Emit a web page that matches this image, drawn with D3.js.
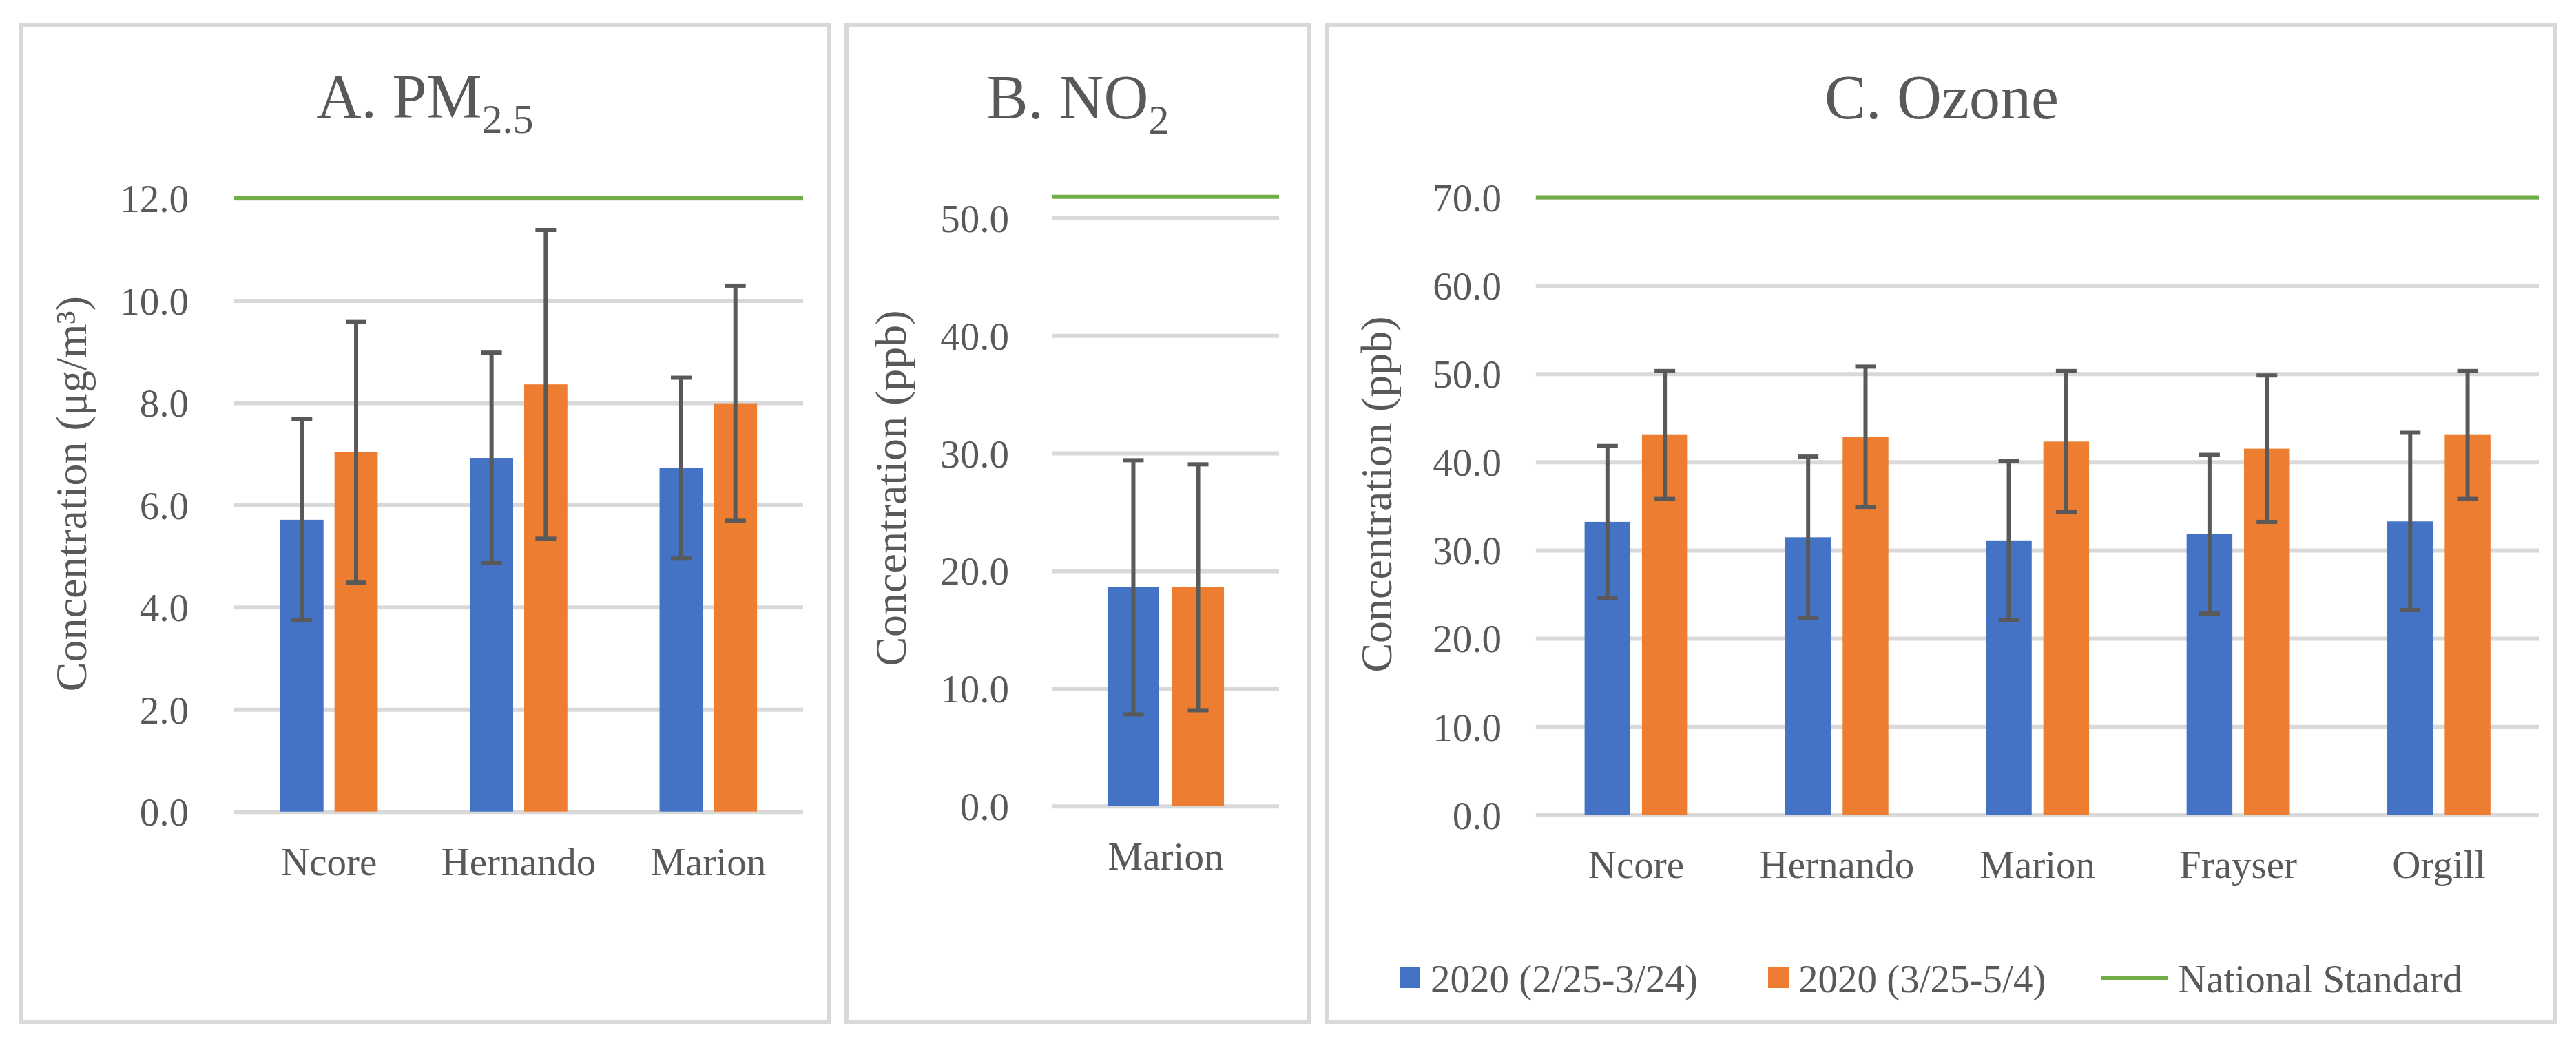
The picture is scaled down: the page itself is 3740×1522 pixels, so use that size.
<!DOCTYPE html>
<html><head><meta charset="utf-8">
<script src="https://cdn.jsdelivr.net/npm/d3@7"></script>
<style>
body{margin:0;background:#fff}
svg{display:block}
text{font-family:"Liberation Serif","Times New Roman",serif;fill:#595959}
</style>
</head><body>
<svg id="c" width="3740" height="1522"></svg>
<script>
// ---------- data ----------
const seriesNames = ["2020 (2/25-3/24)", "2020 (3/25-5/4)", "National Standard"];
const seriesColors = ["#4472C4", "#ED7D31", "#70AD47"];

const pmSites = ["Ncore", "Hernando", "Marion"];
const pmBefore = [5.71, 6.92, 6.72];
const pmBeforeSD = [1.97, 2.06, 1.77];
const pmAfter = [7.03, 8.36, 7.99];
const pmAfterSD = [2.55, 3.02, 2.30];
const pmStandard = 12.0;
const pmTicks = [0, 2, 4, 6, 8, 10, 12];

const no2Sites = ["Marion"];
const no2Before = [18.6];
const no2BeforeSD = [10.8];
const no2After = [18.6];
const no2AfterSD = [10.45];
const no2Standard = 51.8;
const no2Ticks = [0, 10, 20, 30, 40, 50];

const o3Sites = ["Ncore", "Hernando", "Marion", "Frayser", "Orgill"];
const o3Before = [33.2, 31.45, 31.1, 31.8, 33.25];
const o3BeforeSD = [8.6, 9.15, 9.0, 9.0, 10.05];
const o3After = [43.05, 42.85, 42.3, 41.5, 43.05];
const o3AfterSD = [7.25, 7.95, 8.0, 8.3, 7.25];
const o3Standard = 70.0;
const o3Ticks = [0, 10, 20, 30, 40, 50, 60, 70];

// ---------- layout ----------
const svg = d3.select("#c");
const GRID = "#D9D9D9", TXT = "#595959", ERR = "#595959";

const panels = [
  {box:[30,36,1174,1448], xr:[340,1166], y0:1178.7, tickMax:12, tickMaxPx:288, labelX:274,
   sites:pmSites, before:pmBefore, beforeSD:pmBeforeSD, after:pmAfter, afterSD:pmAfterSD,
   std:pmStandard, ticks:pmTicks, title:["A. PM","2.5"], titleX:617, titleY:171,
   ytitle:"Concentration (μg/m³)", ytX:125, ytY:717},
  {box:[1229,36,672,1448], xr:[1528,1857], y0:1170.7, tickMax:50, tickMaxPx:316.4, labelX:1465,
   sites:no2Sites, before:no2Before, beforeSD:no2BeforeSD, after:no2After, afterSD:no2AfterSD,
   std:no2Standard, ticks:no2Ticks, title:["B. NO","2"], titleX:1565, titleY:172,
   ytitle:"Concentration (ppb)", ytX:1315, ytY:709},
  {box:[1926,36,1783,1448], xr:[2229.8,3686.6], y0:1183.3, tickMax:70, tickMaxPx:286.4, labelX:2180,
   sites:o3Sites, before:o3Before, beforeSD:o3BeforeSD, after:o3After, afterSD:o3AfterSD,
   std:o3Standard, ticks:o3Ticks, title:["C. Ozone",""], titleX:2819, titleY:172,
   ytitle:"Concentration (ppb)", ytX:2020, ytY:718}
];

panels.forEach(p => {
  const g = svg.append("g");
  g.append("rect").attr("x", p.box[0]).attr("y", p.box[1]).attr("width", p.box[2]).attr("height", p.box[3])
    .attr("fill", "#fff").attr("stroke", GRID).attr("stroke-width", 6);

  const y = d3.scaleLinear().domain([0, p.tickMax]).range([p.y0, p.tickMaxPx]);
  const x0 = d3.scaleBand().domain(p.sites).range(p.xr).paddingInner(0.486).paddingOuter(0.243);
  const x1 = d3.scaleBand().domain([0, 1]).range([0, x0.bandwidth()]).paddingInner(0.2026);

  // gridlines
  const gg = g.append("g").attr("transform", `translate(${p.xr[0]},0)`)
    .call(d3.axisLeft(y).tickValues(p.ticks).tickSize(-(p.xr[1] - p.xr[0])).tickFormat(""));
  gg.select(".domain").remove();
  gg.selectAll("line").attr("stroke", GRID).attr("stroke-width", 6);

  // tick labels
  const gl = g.append("g").attr("transform", `translate(${p.labelX},0)`)
    .call(d3.axisLeft(y).tickValues(p.ticks).tickSize(0).tickPadding(0).tickFormat(d3.format(".1f")));
  gl.select(".domain").remove();
  gl.selectAll("line").remove();
  gl.selectAll("text").attr("dy", "0.35em").style("font-size", "57px").style("fill", TXT);

  // category labels
  const gx = g.append("g").attr("transform", `translate(0,${p.y0})`)
    .call(d3.axisBottom(x0).tickSize(0).tickPadding(0));
  gx.select(".domain").remove();
  gx.selectAll("line").remove();
  gx.selectAll("text").attr("y", 92).attr("dy", 0).style("font-size", "57px").style("fill", TXT);

  // bars
  const data = p.sites.map((s, i) => ({site: s, vals: [
    {k: 0, v: p.before[i], sd: p.beforeSD[i]},
    {k: 1, v: p.after[i], sd: p.afterSD[i]}]}));
  const grp = g.selectAll(".site").data(data).join("g")
    .attr("transform", d => `translate(${x0(d.site)},0)`);
  grp.selectAll("rect").data(d => d.vals).join("rect")
    .attr("x", d => x1(d.k)).attr("width", x1.bandwidth())
    .attr("y", d => y(d.v)).attr("height", d => y(0) - y(d.v))
    .attr("fill", d => seriesColors[d.k]);

  // error bars
  const eb = grp.selectAll(".eb").data(d => d.vals).join("g")
    .attr("transform", d => `translate(${x1(d.k) + x1.bandwidth() / 2},0)`);
  eb.append("line").attr("x1", 0).attr("x2", 0)
    .attr("y1", d => y(d.v - d.sd)).attr("y2", d => y(d.v + d.sd))
    .attr("stroke", ERR).attr("stroke-width", 6);
  [d => y(d.v - d.sd), d => y(d.v + d.sd)].forEach(fy => {
    eb.append("line").attr("x1", -15).attr("x2", 15).attr("y1", fy).attr("y2", fy)
      .attr("stroke", ERR).attr("stroke-width", 6);
  });

  // national standard line
  g.append("line").attr("x1", p.xr[0]).attr("x2", p.xr[1])
    .attr("y1", y(p.std)).attr("y2", y(p.std))
    .attr("stroke", seriesColors[2]).attr("stroke-width", 6);

  // title
  const t = g.append("text").attr("x", p.titleX).attr("y", p.titleY)
    .attr("text-anchor", "middle").style("font-size", "90px").style("fill", TXT);
  t.append("tspan").text(p.title[0]);
  if (p.title[1]) t.append("tspan").attr("dy", 22).style("font-size", "60px").text(p.title[1]);

  // y-axis title
  g.append("text").attr("transform", `translate(${p.ytX},${p.ytY}) rotate(-90)`)
    .attr("text-anchor", "middle").style("font-size", "64px").style("fill", TXT).text(p.ytitle);
});

// legend (in panel C)
const legend = [
  {name: seriesNames[0], color: seriesColors[0], type: "rect", x: 2032, tx: 2077},
  {name: seriesNames[1], color: seriesColors[1], type: "rect", x: 2567, tx: 2611},
  {name: seriesNames[2], color: seriesColors[2], type: "line", x: 3050, tx: 3162}
];
const lg = svg.append("g");
legend.forEach(l => {
  if (l.type === "rect") {
    lg.append("rect").attr("x", l.x).attr("y", 1405).attr("width", 30).attr("height", 30).attr("fill", l.color);
  } else {
    lg.append("line").attr("x1", l.x).attr("x2", l.x + 97).attr("y1", 1420).attr("y2", 1420)
      .attr("stroke", l.color).attr("stroke-width", 6);
  }
  lg.append("text").attr("x", l.tx).attr("y", 1441).style("font-size", "57px").style("fill", TXT).text(l.name);
});
</script>
</body></html>
